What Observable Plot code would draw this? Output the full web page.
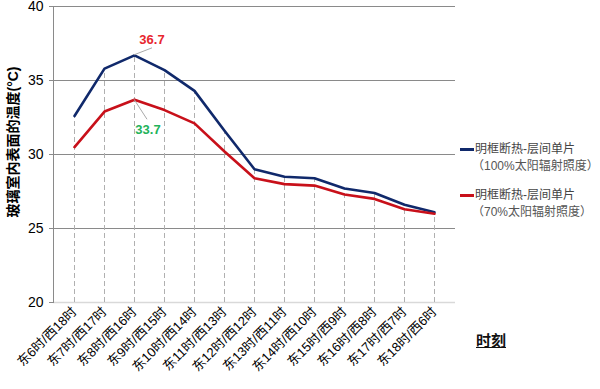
<!DOCTYPE html>
<html>
<head>
<meta charset="utf-8">
<script src="https://cdn.jsdelivr.net/npm/d3@7"></script>
<script src="https://cdn.jsdelivr.net/npm/@observablehq/plot@0.6"></script>
<style>
  body { margin: 0; background: #fff; font-family: "Liberation Sans", "Noto Sans CJK SC", sans-serif; }
  #wrap { position: relative; width: 600px; height: 389px; }
  .legend { position: absolute; left: 460px; font-size: 12px; color: #444; line-height: 17px; }
  .legend .sw { display: inline-block; width: 14px; height: 3px; vertical-align: middle; margin-right: 1px; }
  .legend .sub { color: #555; padding-left: 12px; }
  #xlabel { position: absolute; left: 476px; top: 329px; font-size: 15px; font-weight: bold; text-decoration: underline; color: #111; }
</style>
</head>
<body>
<div id="wrap"></div>
<script>
const categories = ["东6时/西18时","东7时/西17时","东8时/西16时","东9时/西15时","东10时/西14时","东11时/西13时","东12时/西12时","东13时/西11时","东14时/西10时","东15时/西9时","东16时/西8时","东17时/西7时","东18时/西6时"];
const series100 = [32.6, 35.8, 36.7, 35.7, 34.3, 31.6, 29.0, 28.5, 28.4, 27.7, 27.4, 26.6, 26.1];
const series70  = [30.5, 32.9, 33.7, 33.0, 32.1, 30.2, 28.4, 28.0, 27.9, 27.3, 27.0, 26.3, 26.0];
const seriesNames = ["明框断热-层间单片", "明框断热-层间单片"];
const seriesSubs = ["（100%太阳辐射照度）", "（70%太阳辐射照度）"];
const colors = ["#10296b", "#c8101a"];
const yTicks = [20, 25, 30, 35, 40];
const gridTicks = [25, 30, 35, 40];
const yLabel = "玻璃室内表面的温度(°C)";
const annotations = [
  {label: "36.7", cat: "东8时/西16时", value: 36.7, color: "#e8262e", dir: -1},
  {label: "33.7", cat: "东8时/西16时", value: 33.7, color: "#22b35a", dir: 1}
];

const d100 = categories.map((c, i) => ({cat: c, v: series100[i]}));
const d70 = categories.map((c, i) => ({cat: c, v: series70[i]}));

const font = '"Liberation Sans", "Noto Sans CJK SC", sans-serif';

const chart = Plot.plot({
  width: 600,
  height: 389,
  marginLeft: 53,
  marginTop: 6,
  marginBottom: 87,
  marginRight: 145,
  style: {fontFamily: font, fontSize: "12px", color: "#000", background: "#fff", overflow: "visible"},
  x: {type: "point", domain: categories, range: [68.5, 439.5], padding: 0, label: null},
  y: {domain: [20, 40], label: null},
  marks: [
    Plot.ruleY([20], {stroke: "#d9d9d9", strokeWidth: 1.5}),
    Plot.ruleY(gridTicks, {stroke: "#8a8a8a", strokeWidth: 1}),
    Plot.ruleX(d100, {x: "cat", y1: 20, y2: "v", stroke: "#b0b0b0", strokeDasharray: "5,3", strokeWidth: 1}),
    Plot.axisY({ticks: yTicks, tickSize: 4, tickPadding: 6, fontSize: 14, stroke: "#8a8a8a", label: null}),
    Plot.frame({anchor: "left", stroke: "#8a8a8a"}),
    Plot.axisX({tickRotate: -45, tickSize: 0, tickPadding: 7, fontSize: 13, label: null}),
    Plot.line(d100, {x: "cat", y: "v", stroke: colors[0], strokeWidth: 2.6}),
    Plot.line(d70, {x: "cat", y: "v", stroke: colors[1], strokeWidth: 2.6}),
    (index, scales, values, dims) => {
      const g = d3.create("svg:g");
      for (const a of annotations) {
        const x0 = scales.x(a.cat), y0 = scales.y(a.value);
        const up = a.dir < 0;
        g.append("line")
          .attr("x1", x0).attr("y1", y0)
          .attr("x2", x0 + (up ? 18 : 13)).attr("y2", y0 + (up ? -7 : 20))
          .attr("stroke", "#aaa").attr("stroke-width", 1);
        g.append("text")
          .attr("x", x0 + (up ? 18 : 14)).attr("y", y0 + (up ? -11 : 35))
          .attr("text-anchor", "middle")
          .attr("fill", a.color).attr("font-weight", "bold").attr("font-size", 13)
          .text(a.label);
      }
      const cy = (dims.marginTop + dims.height - dims.marginBottom) / 2 - 12;
      g.append("text")
        .attr("transform", `translate(14,${cy}) rotate(-90)`)
        .attr("text-anchor", "middle").attr("dominant-baseline", "middle")
        .attr("font-size", 14).attr("font-weight", "bold").attr("fill", "#000")
        .text(yLabel);
      return g.node();
    }
  ]
});

const wrap = document.getElementById("wrap");
wrap.appendChild(chart);

const tops = [141, 187];
seriesNames.forEach((n, i) => {
  const div = document.createElement("div");
  div.className = "legend";
  div.style.top = tops[i] + "px";
  div.innerHTML = `<div><span class="sw" style="background:${colors[i]}"></span>${n}</div><div class="sub">${seriesSubs[i]}</div>`;
  wrap.appendChild(div);
});
const xl = document.createElement("div");
xl.id = "xlabel";
xl.textContent = "时刻";
wrap.appendChild(xl);
</script>
</body>
</html>
